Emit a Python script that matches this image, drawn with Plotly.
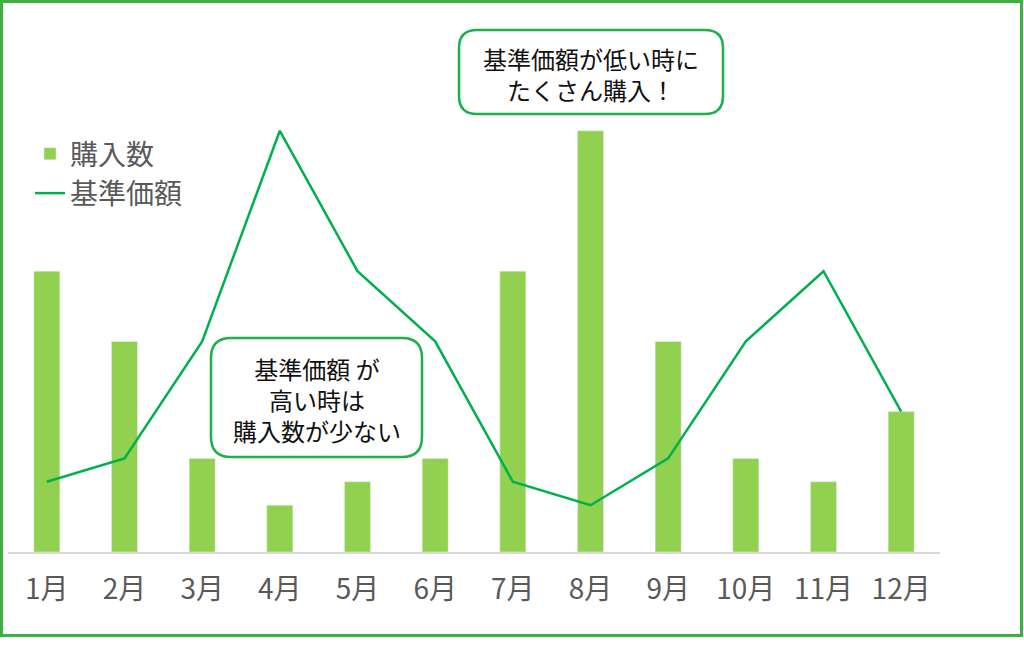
import plotly.graph_objects as go

# データ
months = ["1月", "2月", "3月", "4月", "5月", "6月", "7月", "8月", "9月", "10月", "11月", "12月"]
purchases = [12, 9, 4, 2, 3, 4, 12, 18, 9, 4, 3, 6]      # 購入数
base_price = [3, 4, 9, 18, 12, 9, 3, 2, 4, 9, 12, 6]     # 基準価額

W, H = 1024, 666
L, R, T, B = 8, 940, 84, 552   # プロット領域 (px)
FONT = "Noto Sans CJK JP"


def to_paper(x, y):
    return (x - L) / (R - L), (B - y) / (B - T)


def rounded_box(x0, y0, x1, y1, r):
    pts = [
        ("M", [(x0 + r, y0)]),
        ("L", [(x1 - r, y0)]),
        ("Q", [(x1, y0), (x1, y0 + r)]),
        ("L", [(x1, y1 - r)]),
        ("Q", [(x1, y1), (x1 - r, y1)]),
        ("L", [(x0 + r, y1)]),
        ("Q", [(x0, y1), (x0, y1 - r)]),
        ("L", [(x0, y0 + r)]),
        ("Q", [(x0, y0), (x0 + r, y0)]),
    ]
    path = ""
    for cmd, ps in pts:
        path += cmd + " " + " ".join("%.5f,%.5f" % to_paper(*p) for p in ps) + " "
    return path + "Z"


fig = go.Figure()
fig.add_trace(go.Bar(x=months, y=purchases, name="購入数", marker_color="#92D050",
                     legendgroup="a"))
fig.add_trace(go.Scatter(x=months, y=base_price, name="基準価額", mode="lines",
                         line=dict(color="#00B050", width=2.5), legendgroup="b"))

shapes = []
# 外枠
bx0, by0 = to_paper(1.5, 1.5)
bx1, by1 = to_paper(1021.5, 635.5)
shapes.append(dict(type="rect", xref="paper", yref="paper", x0=bx0, y0=by1, x1=bx1, y1=by0,
                   line=dict(color="#3CB043", width=3), layer="below"))
# 吹き出し
shapes.append(dict(type="path", xref="paper", yref="paper",
                   path=rounded_box(459, 30, 723, 114, 18),
                   line=dict(color="#1DB04A", width=2.5), fillcolor="white"))
shapes.append(dict(type="path", xref="paper", yref="paper",
                   path=rounded_box(211, 338, 422, 457, 20),
                   line=dict(color="#1DB04A", width=2.5), fillcolor="white"))

ax1, ay1 = to_paper(591, 74)
ax2, ay2 = to_paper(316.5, 399)
annotations = [
    dict(x=ax1, y=ay1, xref="paper", yref="paper", showarrow=False,
         xanchor="center", yanchor="middle",
         text="基準価額が低い時に<br>たくさん購入！",
         font=dict(family=FONT, size=24, color="#111111")),
    dict(x=ax2, y=ay2, xref="paper", yref="paper", showarrow=False,
         xanchor="center", yanchor="middle",
         text="基準価額 が<br>高い時は<br>購入数が少ない",
         font=dict(family=FONT, size=24, color="#111111")),
]

lx, ly = to_paper(30, 129)
fig.update_layout(
    width=W, height=H,
    margin=dict(l=L, r=W - R, t=T, b=H - B, autoexpand=False),
    paper_bgcolor="white", plot_bgcolor="white",
    bargap=0.665,
    font=dict(family=FONT, color="#595959"),
    showlegend=True,
    legend=dict(x=lx, y=ly, xanchor="left", yanchor="top", bgcolor="rgba(0,0,0,0)",
                font=dict(family=FONT, size=28, color="#595959"),
                traceorder="grouped", tracegroupgap=0, itemwidth=30),
    xaxis=dict(showline=True, linecolor="#D9D9D9", linewidth=1.5, showgrid=False,
               ticks="", ticklabelstandoff=12,
               tickfont=dict(family=FONT, size=28, color="#595959")),
    yaxis=dict(range=[0, 20], visible=False, showgrid=False, zeroline=False),
    shapes=shapes,
    annotations=annotations,
)

fig.write_html("out.html", config={"displayModeBar": False},
               post_script="document.body.style.margin='0';")
